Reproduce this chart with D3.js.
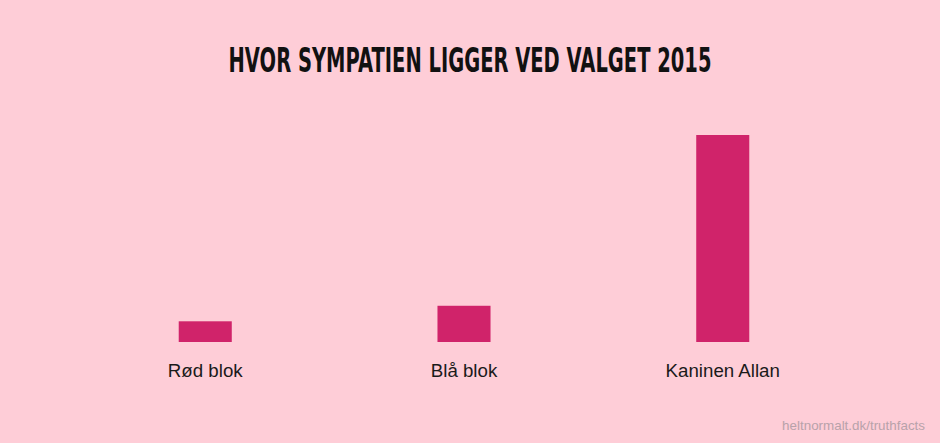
<!DOCTYPE html>
<html>
<head>
<meta charset="utf-8">
<script src="https://cdn.jsdelivr.net/npm/d3@7"></script>
<style>
  html, body { margin: 0; padding: 0; background: #fecdd7; }
  svg { display: block; }
</style>
</head>
<body>
<svg id="chart"></svg>
<script>
var width = 940, height = 443;

var title = "HVOR SYMPATIEN LIGGER VED VALGET 2015";
var categories = ["Rød blok", "Blå blok", "Kaninen Allan"];
var values = [10, 17.5, 100];
var credit = "heltnormalt.dk/truthfacts";

var bg = "#fecdd7";
var barcolor = "#d0236a";

var svg = d3.select("#chart")
  .attr("width", width)
  .attr("height", height);

svg.append("rect")
  .attr("width", width)
  .attr("height", height)
  .style("fill", bg);

// band centers sit at ~205, 464, 723
var x = d3.scaleBand()
  .domain(categories)
  .range([76, 852])
  .paddingInner(0.795)
  .paddingOuter(0.397);

var y = d3.scaleLinear()
  .domain([0, 100])
  .range([342, 135]);

svg.selectAll(".bar")
  .data(categories)
.enter().append("rect")
  .attr("class", "bar")
  .attr("x", function(d){ return x(d); })
  .attr("width", x.bandwidth())
  .attr("y", function(d, i){ return y(values[i]); })
  .attr("height", function(d, i){ return y(0) - y(values[i]); })
  .style("fill", barcolor);

var axis = d3.axisBottom(x).tickSize(0).tickPadding(0);
var g = svg.append("g")
  .attr("transform", "translate(0,362)")
  .call(axis);
g.select(".domain").remove();
g.selectAll("text")
  .attr("dy", "0.78em")
  .style("font-family", "'Liberation Sans', Arial, sans-serif")
  .style("font-size", "18.7px")
  .style("fill", "#1a1a1a");

// title: tall caps squeezed sideways, like the condensed face in the picture
var t = svg.append("text")
  .attr("text-anchor", "middle")
  .style("font-family", "'DejaVu Sans', sans-serif")
  .style("font-weight", "bold")
  .style("font-size", "33px")
  .style("fill", "#111")
  .text(title);

var w = t.node().getComputedTextLength();
var sx = w > 0 ? 483 / w : 0.7;
t.attr("transform", "translate(" + [width / 2, 72] + ") scale(" + sx + ",1)");

svg.append("text")
  .attr("x", 925)
  .attr("y", 430)
  .attr("text-anchor", "end")
  .style("font-family", "'Liberation Sans', Arial, sans-serif")
  .style("font-size", "13.4px")
  .style("fill", "#b8a2aa")
  .text(credit);
</script>
</body>
</html>
